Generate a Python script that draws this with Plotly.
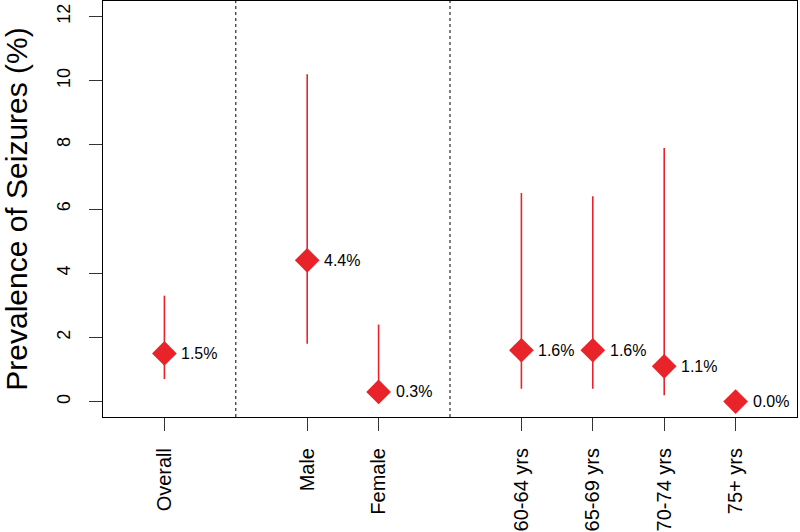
import plotly.graph_objects as go

categories = ["Overall", "Male", "Female", "60-64 yrs", "65-69 yrs", "70-74 yrs", "75+ yrs"]
positions = [1, 3, 4, 6, 7, 8, 9]
prevalence = [1.5, 4.4, 0.3, 1.6, 1.6, 1.1, 0.0]
ci_lower = [0.7, 1.8, 0.3, 0.4, 0.4, 0.2, 0.0]
ci_upper = [3.3, 10.2, 2.4, 6.5, 6.4, 7.9, 0.0]
labels = ["1.5%", "4.4%", "0.3%", "1.6%", "1.6%", "1.1%", "0.0%"]
separators = [2, 5]
y_ticks = [0, 2, 4, 6, 8, 10, 12]

RED = "#E8232A"
FONT = "Arial, Liberation Sans, Helvetica, sans-serif"

fig = go.Figure()
fig.add_trace(go.Scatter(
    x=positions, y=prevalence, mode="markers",
    marker=dict(symbol="diamond", size=19, color=RED, line=dict(width=0)),
    error_y=dict(type="data", symmetric=False,
                 array=[u - p for u, p in zip(ci_upper, prevalence)],
                 arrayminus=[p - l for p, l in zip(prevalence, ci_lower)],
                 color=RED, thickness=1.6, width=0),
    hoverinfo="skip", showlegend=False,
))

for xp, yp, lab in zip(positions, prevalence, labels):
    fig.add_annotation(x=xp, y=yp, text=lab, showarrow=False, xanchor="left",
                       yanchor="middle", xshift=15,
                       font=dict(family=FONT, size=16, color="black"))

for s in separators:
    fig.add_vline(x=s, line=dict(color="black", width=1, dash="dot"))

fig.update_layout(
    width=800, height=532,
    margin=dict(l=103, r=3, t=1, b=115, autoexpand=False),
    plot_bgcolor="white", paper_bgcolor="white",
    font=dict(family=FONT, color="black"),
    xaxis=dict(range=[0.14, 9.86], tickmode="array", tickvals=positions, ticktext=categories,
               tickangle=-90, ticks="outside", ticklen=13, tickcolor="#333",
               ticklabelstandoff=9, automargin=False,
               showline=True, linecolor="black", linewidth=1, mirror=True,
               showgrid=False, zeroline=False, tickfont=dict(size=20, color="black")),
    yaxis=dict(range=[-0.48, 12.48], tickmode="array", tickvals=y_ticks,
               tickangle=-90, ticks="outside", ticklen=13, tickcolor="#333",
               ticklabelstandoff=12, automargin=False,
               showline=True, linecolor="black", linewidth=1, mirror=True,
               showgrid=False, zeroline=False, tickfont=dict(size=18, color="black"),
               title=dict(text="Prevalence of Seizures (%)", font=dict(size=30), standoff=31)),
)

fig.write_html("out.html", config={"displayModeBar": False, "staticPlot": True},
               post_script="document.body.style.margin='0';document.body.style.overflow='hidden';")
